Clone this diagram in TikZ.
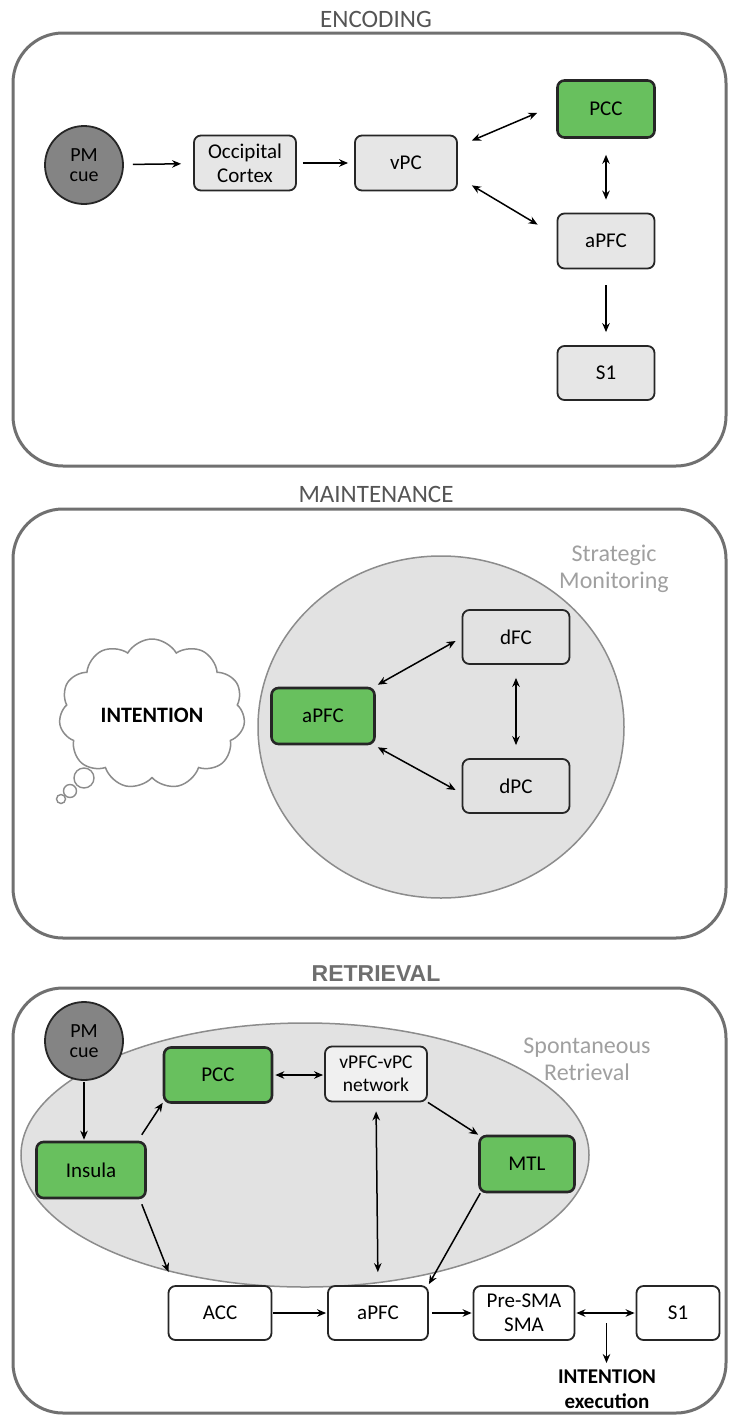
\documentclass[tikz,border=0pt]{standalone}
\usepackage{fontspec}
\setmainfont{Carlito}
\newfontfamily\arialfont{Liberation Sans}
\usetikzlibrary{shapes.symbols,shapes.geometric,arrows.meta,calc}
\definecolor{nodegreen}{RGB}{104,192,94}
\definecolor{boxgray}{RGB}{230,230,230}
\definecolor{panelgray}{RGB}{112,112,112}
\definecolor{ellgray}{RGB}{226,226,226}
\definecolor{elledge}{RGB}{140,140,140}
\definecolor{cuegray}{RGB}{132,132,132}
\definecolor{titlegray}{RGB}{85,85,85}
\definecolor{labelgray}{RGB}{160,160,160}
\definecolor{netgray}{RGB}{240,240,240}
\tikzset{
  panel/.style={draw=panelgray, line width=3pt, rounded corners=50pt},
  region/.style={ellipse, draw=elledge, fill=ellgray, line width=1.5pt, inner sep=0pt},
  nbox/.style={rectangle, draw=black!85, line width=1.8pt, rounded corners=7pt, inner sep=0pt, align=center, font=\fontsize{21}{24}\selectfont},
  greybox/.style={nbox, fill=boxgray},
  greenbox/.style={nbox, fill=nodegreen, line width=2.6pt},
  whitebox/.style={nbox, fill=white},
  cue/.style={circle, draw=black!85, fill=cuegray, line width=1.8pt, minimum size=78pt, inner sep=0pt, align=center, font=\fontsize{20}{20}\selectfont},
  arr/.style={-{Stealth[length=9pt,width=7.5pt]}, line width=1.5pt},
  darr/.style={{Stealth[length=9pt,width=7.5pt]}-{Stealth[length=9pt,width=7.5pt]}, line width=1.5pt},
  title/.style={font=\fontsize{25}{25}\selectfont, text=titlegray},
  sidelabel/.style={font=\fontsize{24}{27}\selectfont, text=labelgray, align=center},
  bubble/.style={circle, draw=elledge, fill=white, line width=1.4pt, inner sep=0pt},
}
\begin{document}
\begin{tikzpicture}[x=1pt,y=-1pt]
\useasboundingbox (0,0) rectangle (730,1416);
\fill[white] (0,0) rectangle (730,1416);

% ================= ENCODING =================
\node[title] (tenc) at (376,19) {ENCODING};
\draw[panel] (13,33) rectangle (726,466);
\node[cue] (pm) at (84,165) {PM\\cue};
\node[greybox, minimum width=102pt, minimum height=55pt] (occ) at (245,163) {Occipital\\Cortex};
\node[greybox, minimum width=102pt, minimum height=55pt] (vpc) at (406,163) {vPC};
\node[greenbox, minimum width=97pt, minimum height=57pt] (pcc) at (606,109) {PCC};
\node[greybox, minimum width=97pt, minimum height=55pt] (apfc) at (606,241) {aPFC};
\node[greybox, minimum width=97pt, minimum height=54pt] (s1) at (606,373) {S1};

\draw[arr, shorten <=9pt, shorten >=12pt] (pm) -- (occ);
\draw[arr, shorten <=6pt, shorten >=6pt] (occ) -- (vpc);
\draw[darr] ([shift={(14,6)}]vpc.north east) -- ([shift={(-19,-26)}]pcc.south west);
\draw[darr] ([shift={(14,-6)}]vpc.south east) -- ([shift={(-19,12)}]apfc.north west);
\draw[darr, shorten <=16pt, shorten >=13pt] (pcc.south) -- (apfc.north);
\draw[arr, shorten <=16pt, shorten >=13pt] (apfc.south) -- (s1.north);

% ================= MAINTENANCE =================
\node[title] (tmain) at (376,494) {MAINTENANCE};
\draw[panel] (13,509) rectangle (726,938);
\node[region, minimum width=366pt, minimum height=342pt] (sm) at (441,727) {};
\node[sidelabel] (smlab) at (614,569) {Strategic\\Monitoring};
\node[cloud, cloud puffs=11, cloud puff arc=120, cloud ignores aspect, draw=elledge, fill=white, line width=1.5pt, minimum width=186pt, minimum height=150pt, inner sep=0pt] (cloud) at (152,714) {};
\node[font=\fontsize{22}{22}\selectfont\bfseries] (intent) at (152,715) {INTENTION};
\node[bubble, minimum size=20pt] (b1) at (84,778) {};
\node[bubble, minimum size=13pt] (b2) at (70,791) {};
\node[bubble, minimum size=9pt] (b3) at (61,799) {};
\node[greenbox, minimum width=103pt, minimum height=56pt] (apfc2) at (323,716) {aPFC};
\node[nbox, fill=ellgray, minimum width=107pt, minimum height=54pt] (dfc) at (516,637) {dFC};
\node[nbox, fill=ellgray, minimum width=107pt, minimum height=54pt] (dpc) at (516,786) {dPC};
\draw[darr] ([shift={(2,-2)}]apfc2.north east) -- ([shift={(-6,4)}]dfc.west);
\draw[darr] ([shift={(2,2)}]apfc2.south east) -- ([shift={(-6,4)}]dpc.west);
\draw[darr, shorten <=13pt, shorten >=13pt] (dfc.south) -- (dpc.north);

% ================= RETRIEVAL =================
\node[font=\arialfont\fontsize{23}{23}\selectfont\bfseries, text=titlegray!85] (tret) at (376,974) {RETRIEVAL};
\draw[panel] (13,988) rectangle (726,1413);
\node[region, minimum width=568pt, minimum height=264pt] (sr) at (305,1155) {};
\node[sidelabel] (srlab) at (587,1059) {Spontaneous\\Retrieval};
\node[cue] (pm2) at (84,1041) {PM\\cue};
\node[greenbox, minimum width=108pt, minimum height=55pt] (pcc2) at (218,1075) {PCC};
\node[nbox, fill=netgray, minimum width=102pt, minimum height=55pt, font=\fontsize{19.5}{23}\selectfont] (net) at (376,1074) {vPFC-vPC\\network};
\node[greenbox, minimum width=109pt, minimum height=56pt] (ins) at (91,1170) {Insula};
\node[greenbox, minimum width=95pt, minimum height=56pt] (mtl) at (527,1164) {MTL};
\node[whitebox, minimum width=103pt, minimum height=54pt] (acc) at (220,1313) {ACC};
\node[whitebox, minimum width=100pt, minimum height=54pt] (apfc3) at (378,1313) {aPFC};
\node[whitebox, minimum width=101pt, minimum height=54pt] (sma) at (524,1313) {Pre-SMA\\SMA};
\node[whitebox, minimum width=83pt, minimum height=54pt] (s1b) at (678,1313) {S1};
\node[font=\fontsize{21}{25}\selectfont\bfseries, align=center] (exec) at (607,1389) {INTENTION\\execution};

\draw[arr, shorten <=1pt, shorten >=1pt] (pm2.south) -- (pm2.south |- ins.north);
\draw[arr] ([shift={(-5,-6)}]ins.north east) -- ([shift={(0,-1)}]pcc2.south west);
\draw[darr, shorten <=2pt, shorten >=1pt] (pcc2.east) -- (net.west |- pcc2.east);
\draw[arr] ([shift={(0,0)}]net.south east) -- (mtl.north west);
\draw[darr, shorten <=9pt, shorten >=13pt] (net.south) -- (apfc3.north);
\draw[arr] ([shift={(-5,5)}]ins.south east) -- ([shift={(1,-13)}]acc.north west);
\draw[arr] ([shift={(2,0)}]mtl.south west) -- ([shift={(0,-1)}]apfc3.north east);
\draw[arr, shorten <=1pt, shorten >=1pt] (acc.east) -- (apfc3.west);
\draw[arr, shorten <=3pt, shorten >=1pt] (apfc3.east) -- (sma.west);
\draw[darr, shorten <=1pt, shorten >=1pt] (sma.east) -- (s1b.west);
\coordinate (mid) at ($(sma.east)!0.5!(s1b.west)+(1,10)$);
\draw[arr] (mid) -- ([shift={(0,-3)}]mid |- exec.north);
\end{tikzpicture}
\end{document}
